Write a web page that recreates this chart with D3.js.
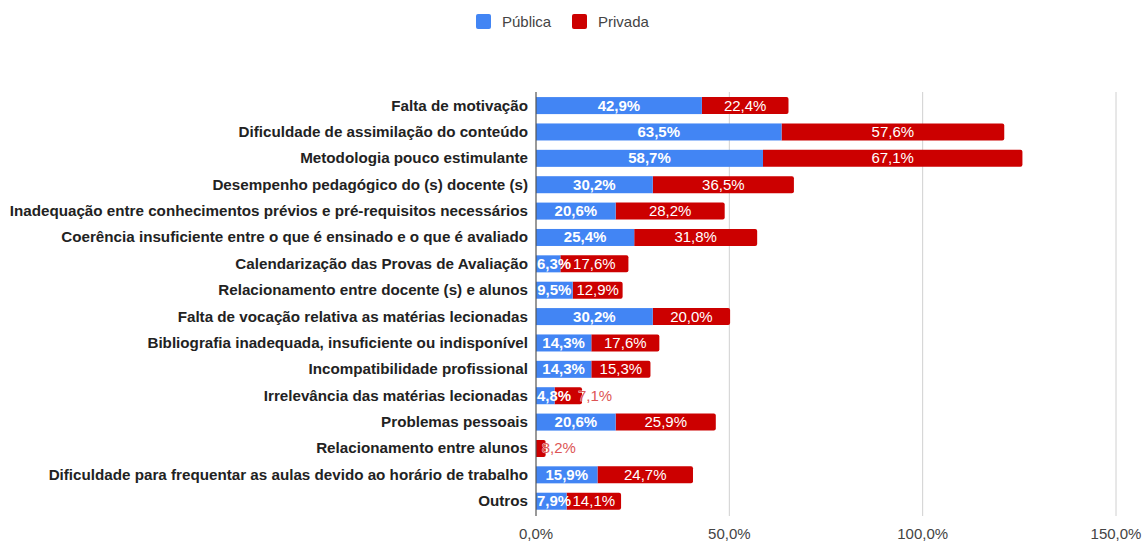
<!DOCTYPE html>
<html>
<head>
<meta charset="utf-8">
<script src="https://cdn.jsdelivr.net/npm/d3@7"></script>
<style>
  body { margin: 0; background: #fff; }
  text { font-family: Arial, "Liberation Sans", sans-serif; }
</style>
</head>
<body>
<script>
// categories, top to bottom
var categories = [
  "Falta de motivação",
  "Dificuldade de assimilação do conteúdo",
  "Metodologia pouco estimulante",
  "Desempenho pedagógico do (s) docente (s)",
  "Inadequação entre conhecimentos prévios e pré-requisitos necessários",
  "Coerência insuficiente entre o que é ensinado e o que é avaliado",
  "Calendarização das Provas de Avaliação",
  "Relacionamento entre docente (s) e alunos",
  "Falta de vocação relativa as matérias lecionadas",
  "Bibliografia inadequada, insuficiente ou indisponível",
  "Incompatibilidade profissional",
  "Irrelevância das matérias lecionadas",
  "Problemas pessoais",
  "Relacionamento entre alunos",
  "Dificuldade para frequentar as aulas devido ao horário de trabalho",
  "Outros"
];
var publica = [42.9, 63.5, 58.7, 30.2, 20.6, 25.4, 6.3, 9.5, 30.2, 14.3, 14.3, 4.8, 20.6, 0, 15.9, 7.9];
var privada = [22.4, 57.6, 67.1, 36.5, 28.2, 31.8, 17.6, 12.9, 20.0, 17.6, 15.3, 7.1, 25.9, 2.5, 24.7, 14.1];
// the printed labels (one bar in the source is shorter than its label says)
var publicaLabels = ["42,9%", "63,5%", "58,7%", "30,2%", "20,6%", "25,4%", "6,3%", "9,5%", "30,2%", "14,3%", "14,3%", "4,8%", "20,6%", "", "15,9%", "7,9%"];
var privadaLabels = ["22,4%", "57,6%", "67,1%", "36,5%", "28,2%", "31,8%", "17,6%", "12,9%", "20,0%", "17,6%", "15,3%", "7,1%", "25,9%", "8,2%", "24,7%", "14,1%"];
var xTicks = [0, 50, 100, 150];
var seriesNames = ["Pública", "Privada"];
var seriesColors = ["#4285f4", "#cc0000"];

var width = 1148, height = 543;
var fs = 15;

var svg = d3.select("body").append("svg")
    .attr("width", width)
    .attr("height", height);

var x = d3.scaleLinear().domain([0, 150]).range([536, 1116]);
var y = d3.scaleBand().domain(categories).range([92.4, 514.4])
    .paddingInner(0.355).paddingOuter(0.1775);

// gridlines
svg.append("g").selectAll("line")
    .data(xTicks.slice(1)).enter()
    .append("line")
    .attr("x1", function(d){ return x(d); })
    .attr("x2", function(d){ return x(d); })
    .attr("y1", 92)
    .attr("y2", 516)
    .attr("stroke", "#d0d0d0")
    .attr("stroke-width", 1);

// tick labels
svg.append("g").selectAll("text")
    .data(xTicks).enter()
    .append("text")
    .attr("x", function(d){ return x(d); })
    .attr("y", 539)
    .attr("text-anchor", "middle")
    .attr("font-size", fs)
    .attr("fill", "#444")
    .text(function(d){ return d3.format(".1f")(d).replace(".", ",") + "%"; });

var rows = categories.map(function(c, i){
  return { cat: c, pub: publica[i], pri: privada[i], pubLab: publicaLabels[i], priLab: privadaLabels[i] };
});

var bh = y.bandwidth();

// Privada (drawn first so its left edge sits under the blue)
svg.append("g").selectAll("path")
    .data(rows).enter()
    .append("path")
    .attr("fill", seriesColors[1])
    .attr("d", function(d){
      var x0 = x(d.pub), x1 = x(d.pub + d.pri), y0 = y(d.cat), r = 2;
      return "M" + x0 + "," + y0 + "H" + (x1 - r) + "Q" + x1 + "," + y0 + " " + x1 + "," + (y0 + r) +
        "V" + (y0 + bh - r) + "Q" + x1 + "," + (y0 + bh) + " " + (x1 - r) + "," + (y0 + bh) + "H" + x0 + "Z";
    });

svg.append("g").selectAll("rect")
    .data(rows.filter(function(d){ return d.pub > 0; })).enter()
    .append("rect")
    .attr("x", x(0))
    .attr("y", function(d){ return y(d.cat); })
    .attr("width", function(d){ return x(d.pub) - x(0); })
    .attr("height", bh)
    .attr("fill", seriesColors[0]);

// axis line
svg.append("line")
    .attr("x1", x(0)).attr("x2", x(0))
    .attr("y1", 92).attr("y2", 516)
    .attr("stroke", "#555")
    .attr("stroke-width", 1.2);

// value labels Pública
svg.append("g").selectAll("text")
    .data(rows).enter()
    .append("text")
    .attr("y", function(d){ return y(d.cat) + bh / 2 + 5; })
    .attr("text-anchor", "middle")
    .attr("font-size", fs)
    .attr("font-weight", "bold")
    .attr("fill", "#fff")
    .text(function(d){ return d.pubLab; })
    .each(function(d){
      var w = this.getComputedTextLength();
      var cx = Math.max((x(0) + x(d.pub)) / 2, x(0) + w / 2 + 1);
      d3.select(this).attr("x", cx);
    });

// value labels Privada
svg.append("g").selectAll("text")
    .data(rows).enter()
    .append("text")
    .attr("font-size", fs)
    .attr("y", function(d){ return y(d.cat) + bh / 2 + 5; })
    .text(function(d){ return d.priLab; })
    .each(function(d){
      var t = d3.select(this);
      var w = this.getComputedTextLength();
      var segW = x(d.pub + d.pri) - x(d.pub);
      if (w > segW - 1) {
        t.attr("x", x(d.pub + d.pri) - 4)
          .attr("text-anchor", "start")
          .attr("fill", "#dd5555")
          .attr("stroke", "#fff")
          .attr("stroke-width", 0.6)
          .attr("paint-order", "stroke");
      } else {
        t.attr("x", (x(d.pub) + x(d.pub + d.pri)) / 2)
          .attr("text-anchor", "middle")
          .attr("fill", "#fff");
      }
    });

// category labels
svg.append("g").selectAll("text")
    .data(categories).enter()
    .append("text")
    .attr("x", 528)
    .attr("y", function(d){ return y(d) + bh / 2 + 5; })
    .attr("text-anchor", "end")
    .attr("font-size", 15.2)
    .attr("font-weight", "bold")
    .attr("fill", "#222")
    .text(function(d){ return d; });

// legend
var legendX = [476, 572];
var legend = svg.append("g");
legend.selectAll("rect")
    .data(seriesNames).enter()
    .append("rect")
    .attr("x", function(d, i){ return legendX[i]; })
    .attr("y", 14)
    .attr("width", 15)
    .attr("height", 15)
    .attr("rx", 2)
    .attr("fill", function(d, i){ return seriesColors[i]; });
legend.selectAll("text")
    .data(seriesNames).enter()
    .append("text")
    .attr("x", function(d, i){ return legendX[i] + 26; })
    .attr("y", 27)
    .attr("font-size", fs)
    .attr("fill", "#444")
    .text(function(d){ return d; });
</script>
</body>
</html>
